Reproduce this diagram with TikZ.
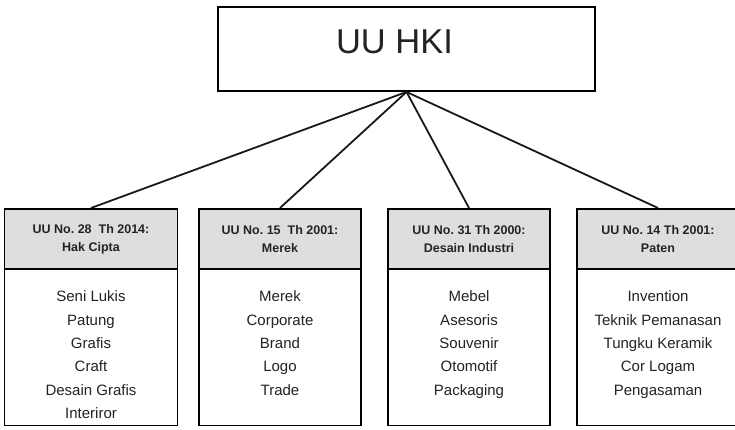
\documentclass[tikz,border=0pt]{standalone}
\usepackage{fontspec}
\setmainfont{Liberation Sans}
\usetikzlibrary{shapes.multipart}

\definecolor{headgray}{RGB}{222,222,222}
\definecolor{inkgray}{RGB}{35,35,35}

\newcommand{\lawhead}[2]{\parbox[c][58pt][c]{#1}{\centering\fontsize{12.5}{18}\selectfont\bfseries #2}}
\newcommand{\lawlist}[2]{\parbox[c][155pt][t]{#1}{\centering\fontsize{15}{23.3}\selectfont\vspace*{21.5pt}#2}}

\begin{document}
\begin{tikzpicture}[x=1pt,y=1pt,every node/.style={align=center,text=inkgray},
	level 1/.style={sibling distance=189pt,level distance=159pt},
	edge from parent/.style={draw,line width=1.8pt,black!90},
	edge from parent path={(\tikzparentnode.south) -- (\tikzchildnode.north)},
	rootbox/.style={draw,line width=1.9pt,minimum width=377pt,minimum height=84pt,font=\fontsize{34.5}{40}\selectfont,text depth=15pt},
	lawbox/.style={draw,line width=1.8pt,rectangle split,rectangle split parts=2,rectangle split part fill={headgray,white},inner xsep=0pt,inner ysep=0pt,anchor=north,xshift=-32pt}]
		\clip (0,0) rectangle (735,430);
		\node[rootbox] (hki) at (406.5,381) {UU HKI\hspace*{24pt}} % text sits a little left of centre
		child { node[lawbox] (cipta) {\lawhead{173pt}{UU No.\ 28\ \ Th 2014:\\Hak Cipta}
			\nodepart{two}\lawlist{173pt}{Seni Lukis\\Patung\\Grafis\\Craft\\Desain Grafis\\Interiror}} } % 6 items
		child { node[lawbox] (merek) {\lawhead{162pt}{UU No.\ 15\ \ Th 2001:\\Merek}
			\nodepart{two}\lawlist{162pt}{Merek\\Corporate\\Brand\\Logo\\Trade}} }
		child { node[lawbox] (desain) {\lawhead{162pt}{UU No.\ 31 Th 2000:\\Desain Industri}
			\nodepart{two}\lawlist{162pt}{Mebel\\Asesoris\\Souvenir\\Otomotif\\Packaging}} }
		child { node[lawbox] (paten) {\lawhead{162pt}{UU No.\ 14 Th 2001:\\Paten}
			\nodepart{two}\lawlist{162pt}{Invention\\Teknik Pemanasan\\Tungku Keramik\\Cor Logam\\Pengasaman}} } % runs off the right edge
		;
	\end{tikzpicture}
\end{document}
